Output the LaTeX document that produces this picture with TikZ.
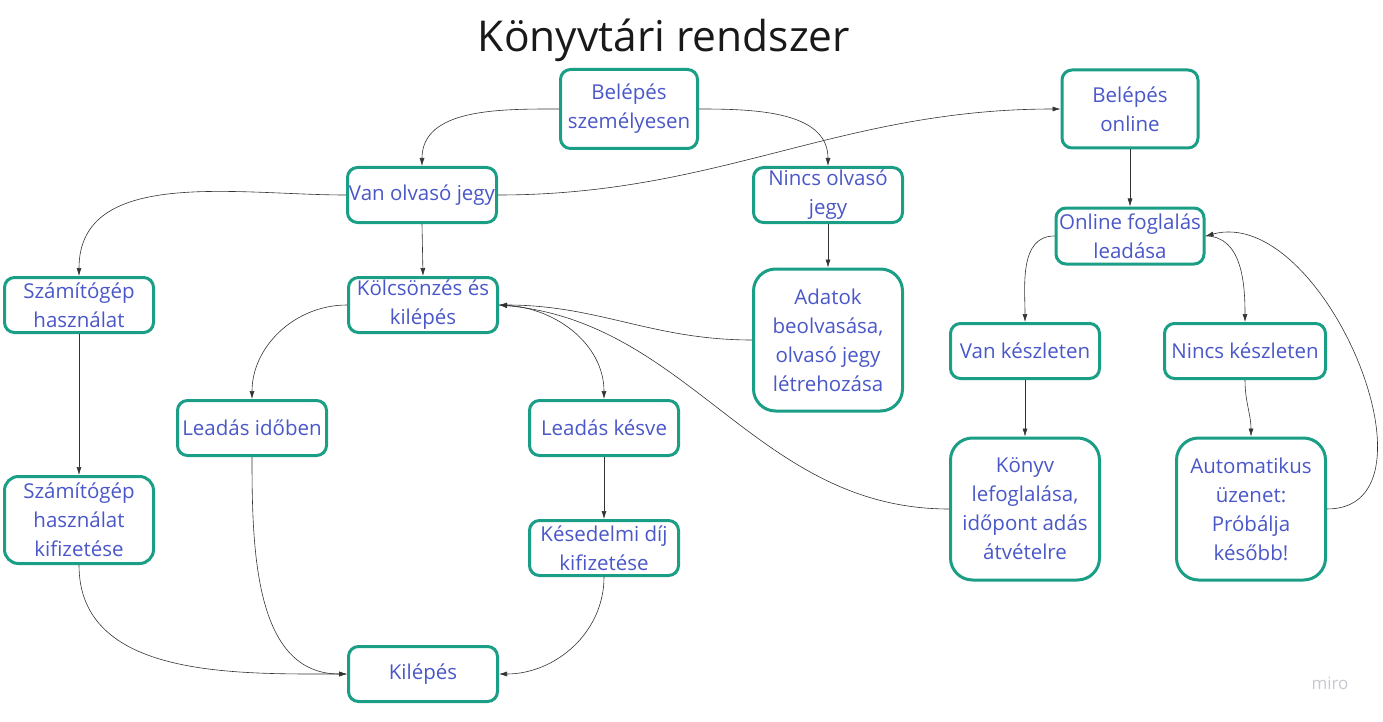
\documentclass[tikz,border=0pt]{standalone}
\usepackage{fontspec}
\setmainfont{Open Sans}
\usetikzlibrary{arrows.meta}
\definecolor{boxgreen}{HTML}{1A9E85}
\definecolor{txtblue}{HTML}{4A57C8}
\definecolor{miroGray}{HTML}{C8C8D0}
\begin{document}
\begin{tikzpicture}[x=1pt,y=-1pt,
  box/.style={draw=boxgreen,line width=3pt,rounded corners=10pt,text=txtblue,align=center,
    inner sep=0pt,minimum width=149pt,minimum height=55pt,font=\fontsize{20.5}{29}\selectfont},
  tall/.style={box,rounded corners=22pt,minimum height=142pt},
  link/.style={draw=black!80,line width=0.6pt,-{Latex[length=8pt,width=5pt]}}]
\useasboundingbox (0,0) rectangle (1383,722);
\node[anchor=base,font=\fontsize{42.5}{50}\selectfont,text=black!90] (cim) at (664,52) {Könyvtári rendszer};
\node[box,minimum width=137pt,minimum height=79pt] (szemelyes) at (629,109) {Belépés\\személyesen};
\node[box,minimum width=136pt,minimum height=78pt] (online) at (1130,109) {Belépés\\online};
\node[box] (vanjegy) at (422,195) {Van olvasó jegy};
\node[box] (nincsjegy) at (828,195) {Nincs olvasó\\jegy};
\node[box,minimum width=148pt,minimum height=56pt] (foglalas) at (1130,236) {Online foglalás\\leadása};
\node[box] (gep) at (79,305) {Számítógép\\használat};
\node[box] (kolcson) at (423,305) {Kölcsönzés és\\kilépés};
\node[tall] (adatok) at (828,340) {Adatok\\beolvasása,\\olvasó jegy\\létrehozása};
\node[box] (vankeszlet) at (1025,351) {Van készleten};
\node[box,minimum width=161pt] (nincskeszlet) at (1245,351) {Nincs készleten};
\node[box] (idoben) at (252,428) {Leadás időben};
\node[box] (kesve) at (604,428) {Leadás késve};
\node[tall] (lefoglal) at (1025,509) {Könyv\\lefoglalása,\\időpont adás\\átvételre};
\node[tall] (uzenet) at (1251,509) {Automatikus\\üzenet:\\Próbálja\\később!};
\node[box,minimum height=87pt,rounded corners=14pt] (gepfizet) at (79,520) {Számítógép\\használat\\kifizetése};
\node[box] (dij) at (604,548) {Késedelmi díj\\kifizetése};
\node[box] (kilep) at (423,674) {Kilépés};
\node[font=\fontsize{17}{20}\selectfont,text=miroGray] (miro) at (1330,683) {miro};
\draw[link] (szemelyes.west) to[out=180,in=90] (vanjegy.north);
\draw[link] (szemelyes.east) to[out=0,in=90] (nincsjegy.north);
\draw[link] (vanjegy.east) to[out=0,in=180] (online.west);
\draw[link] (vanjegy.west) to[out=180,in=90] (gep.north);
\draw[link] (vanjegy.south) -- (kolcson.north);
\draw[link] (nincsjegy.south) -- (adatok.north);
\draw[link] (adatok.west) to[out=180,in=0] (kolcson.east);
\draw[link] (lefoglal.west) to[out=180,in=-5] (kolcson.east);
\draw[link] (kolcson.west) to[out=180,in=90] (idoben.north);
\draw[link] (kolcson.east) to[out=0,in=90] (kesve.north);
\draw[link] (online.south) -- (foglalas.north);
\draw[link] (foglalas.west) to[out=180,in=90] (vankeszlet.north);
\draw[link] (foglalas.east) to[out=0,in=90] (nincskeszlet.north);
\draw[link] (uzenet.east) to[out=0,in=15,looseness=1.05] (foglalas.east);
\draw[link] (vankeszlet.south) -- (lefoglal.north);
\draw[link] (nincskeszlet.south) to[out=-90,in=90] (uzenet.north);
\draw[link] (gep.south) -- (gepfizet.north);
\draw[link] (gepfizet.south) to[out=-90,in=180] (kilep.west);
\draw[link] (idoben.south) to[out=-90,in=180] (kilep.west);
\draw[link] (kesve.south) -- (dij.north);
\draw[link] (dij.south) to[out=-90,in=0] (kilep.east);
\end{tikzpicture}
\end{document}
